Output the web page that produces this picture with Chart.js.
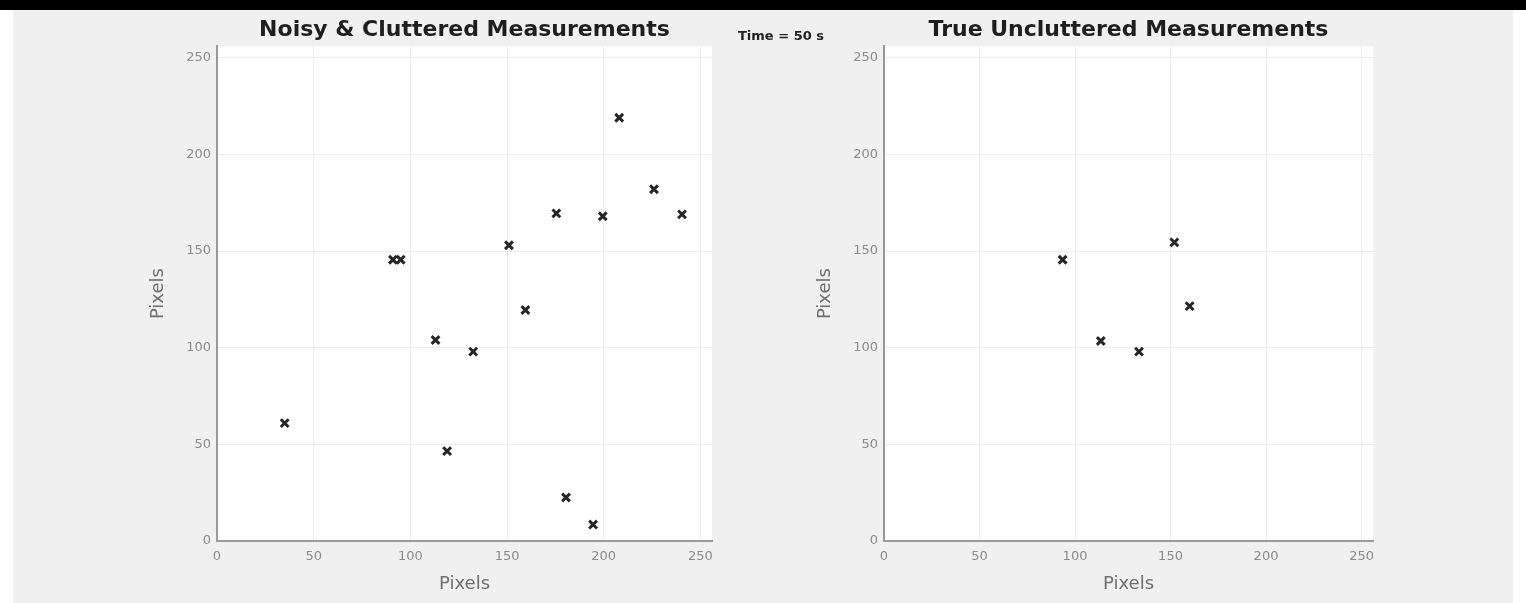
<!DOCTYPE html>
<html>
<head>
<meta charset="utf-8">
<script src="https://cdn.jsdelivr.net/npm/chart.js@4"></script>
<style>
  html, body { margin: 0; padding: 0; background: #ffffff; }
  #fig { position: absolute; left: 13px; top: 0; width: 1500px; height: 603px; background: #f0f0f0; }
  #topbar { position: absolute; left: 0; top: 0; width: 1526px; height: 10px; background: #000; }
  .box { position: absolute; top: 13px; height: 590px; }
  #time { position: absolute; left: 738px; top: 28px; font: bold 13px "DejaVu Sans", sans-serif; color: #222; }
</style>
</head>
<body>
<div id="fig"></div>
<div id="topbar"></div>
<div class="box" style="left:130px;width:600px"><canvas id="noisy"></canvas></div>
<div class="box" style="left:797px;width:594px"><canvas id="truth"></canvas></div>
<div id="time">Time = 50 s</div>
<script>
  "use strict";

  // ── Data (pixel coordinates at t = 50 s) ────
  var noisyX = [35, 91, 95, 113, 119, 132.5, 151, 159.5, 175.5, 180.5, 194.5, 199.5, 208, 226, 240.5];
  var noisyY = [61, 145.5, 145.5, 104, 46.5, 98, 153, 119.5, 169.5, 22.5, 8.5, 168, 219, 182, 169];
  var trueX = [93.5, 113.5, 133.5, 152, 160];
  var trueY = [145.5, 103.5, 98, 154.5, 121.5];
  var tickValues = [0, 50, 100, 150, 200, 250];
  var axisMax = 256;

  var FONT = "'DejaVu Sans', sans-serif";
  var TITLE_FONT = "bold 22px 'DejaVu Sans', sans-serif";

  function toPoints(xs, ys) {
    return xs.map(function (x, i) {
      return { x: x, y: ys[i] };
    });
  }

  // white plot background + title centred over the axes (MATLAB style)
  var plotBg = {
    id: "plotBg",
    beforeDraw: function (chart) {
      var a = chart.chartArea;
      var ctx = chart.ctx;
      ctx.save();
      ctx.fillStyle = "#ffffff";
      ctx.fillRect(a.left, a.top, a.right - a.left, a.bottom - a.top);
      ctx.restore();
    },
    afterDraw: function (chart) {
      var a = chart.chartArea;
      var ctx = chart.ctx;
      ctx.save();
      ctx.font = TITLE_FONT;
      ctx.fillStyle = "#1e1e1e";
      ctx.textAlign = "center";
      ctx.textBaseline = "middle";
      ctx.fillText(chart.options.plugins.title.text, (a.left + a.right) / 2, 17);
      ctx.restore();
    },
  };

  function axis(isY) {
    return {
      type: "linear",
      min: 0,
      max: axisMax,
      afterBuildTicks: function (scale) {
        scale.ticks = tickValues.map(function (v) {
          return { value: v };
        });
      },
      afterFit: function (scale) {
        if (isY) scale.width = 87;
        else scale.height = 62;
      },
      ticks: {
        color: "#8a8a8a",
        font: { family: FONT, size: 13 },
        padding: isY ? 6 : 8,
        maxRotation: 0,
        autoSkip: false,
      },
      grid: {
        color: "#ececec",
        lineWidth: 1,
        drawTicks: false,
      },
      border: { display: true, color: "#9a9a9a", width: 2 },
      title: {
        display: true,
        text: "Pixels",
        color: "#6e6e6e",
        font: { family: FONT, size: 18 },
        padding: isY ? { top: 18, bottom: 0 } : { top: 0, bottom: 8 },
      },
    };
  }

  function makeChart(id, title, xs, ys) {
    return new Chart(document.getElementById(id), {
      type: "scatter",
      data: {
        datasets: [
          {
            data: toPoints(xs, ys),
            pointStyle: "crossRot",
            pointRadius: 5.5,
            pointBorderWidth: 3,
            borderColor: "#262626",
            backgroundColor: "#262626",
          },
        ],
      },
      options: {
        responsive: true,
        maintainAspectRatio: false,
        animation: false,
        layout: { padding: { left: 0, right: 18, top: 0, bottom: 0 } },
        plugins: {
          legend: { display: false },
          tooltip: { enabled: false },
          title: {
            // space is reserved here, text is drawn by plotBg over the axes
            display: true,
            text: title,
            color: "rgba(0,0,0,0)",
            font: { family: FONT, size: 21, weight: "bold" },
            padding: { top: 5, bottom: 3 },
          },
        },
        scales: { x: axis(false), y: axis(true) },
      },
      plugins: [plotBg],
    });
  }

  makeChart("noisy", "Noisy & Cluttered Measurements", noisyX, noisyY);
  makeChart("truth", "True Uncluttered Measurements", trueX, trueY);
</script>
</body>
</html>
